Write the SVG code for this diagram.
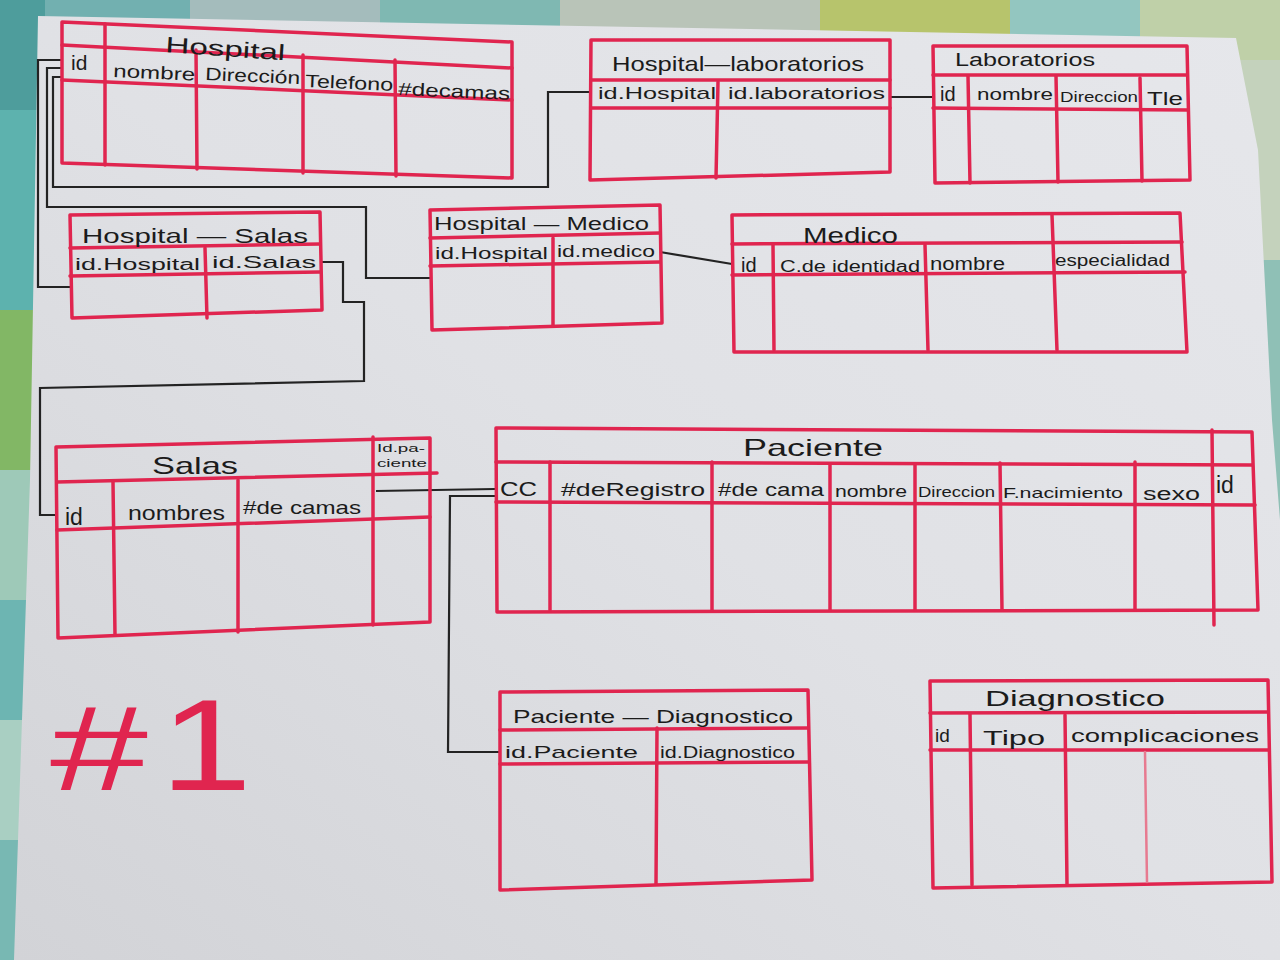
<svg xmlns="http://www.w3.org/2000/svg" width="1280" height="960" viewBox="0 0 1280 960">
  <defs>
    <linearGradient id="paper" x1="1" y1="0" x2="0" y2="1">
      <stop offset="0" stop-color="#e6e7eb"/>
      <stop offset="0.5" stop-color="#e0e1e5"/>
      <stop offset="1" stop-color="#d2d3d7"/>
    </linearGradient>
    <style>
      .r { fill: none; stroke: #e0254f; stroke-width: 3.5; stroke-linecap: round; stroke-linejoin: round; }
      .rf { fill: none; stroke: #e77a90; stroke-width: 2.5; stroke-linecap: round; }
      .t { font-family: "Liberation Sans", "DejaVu Sans", sans-serif; fill: #1b1b1b; }
      .h { font-size: 18px; }
      .ttl { font-size: 21px; }
      .conn { fill: none; stroke: #232323; stroke-width: 2.2; stroke-linejoin: miter; }
    </style>
  </defs>

  <!-- cloth underneath the sheet -->
  <g id="cloth">
    <rect x="0" y="0" width="1280" height="960" fill="#8fc0b6"/>
    <rect x="0" y="0" width="190" height="40" fill="#72b0b0"/>
    <rect x="190" y="0" width="190" height="40" fill="#a4bcbc"/>
    <rect x="380" y="0" width="180" height="40" fill="#7fb8b2"/>
    <rect x="560" y="0" width="260" height="40" fill="#b9c4b8"/>
    <rect x="820" y="0" width="190" height="45" fill="#b7c46c"/>
    <rect x="1010" y="0" width="130" height="45" fill="#93c6c0"/>
    <rect x="1140" y="0" width="140" height="60" fill="#bfd0a8"/>
    <rect x="1230" y="60" width="50" height="200" fill="#c4d2bc"/>
    <rect x="0" y="0" width="45" height="110" fill="#4e9d9c"/>
    <rect x="0" y="110" width="45" height="200" fill="#5db2ae"/>
    <rect x="0" y="310" width="45" height="160" fill="#82b765"/>
    <rect x="0" y="470" width="45" height="130" fill="#9ec9b8"/>
    <rect x="0" y="600" width="45" height="120" fill="#6db5b2"/>
    <rect x="0" y="720" width="45" height="120" fill="#a9cfc2"/>
    <rect x="0" y="840" width="45" height="120" fill="#78b8b3"/>
  </g>

  <!-- the sheet of paper -->
  <polygon id="sheet" points="38,16 1236,38 1258,150 1272,420 1280,520 1280,960 14,960 30,480" fill="url(#paper)"/>

  <!-- relationship lines -->
  <g id="connectors" class="conn">
    <path d="M62,60 H38 V287 H70"/>
    <path d="M62,68 H47 V207 H366 V278 H430"/>
    <path d="M62,77 H53 V187 H548 V92 H591"/>
    <path d="M320,262 H343 V302 H364 V381 L40,388 V515 H56"/>
    <path d="M660,252 L732,264"/>
    <path d="M890,97 H932"/>
    <path d="M376,491 L495,489"/>
    <path d="M495,496 H450 L448,752 H500"/>
  </g>

  <!-- Hospital -->
  <g id="hospital">
    <path class="r" d="M62,22 L512,42 L512,178 L62,163 Z"/>
    <path class="r" d="M62,45 L512,68"/>
    <path class="r" d="M62,80 L512,100"/>
    <path class="r" d="M105,24 L105,165"/>
    <path class="r" d="M196,50 L197,169"/>
    <path class="r" d="M303,55 L303,173"/>
    <path class="r" d="M395,60 L396,176"/>
    <text class="t" x="165" y="52" font-size="22" textLength="120" lengthAdjust="spacingAndGlyphs" transform="rotate(4 165 52)">Hospital</text>
    <text class="t" x="71" y="70" font-size="21">id</text>
    <text class="t h" x="113" y="77" textLength="82" lengthAdjust="spacingAndGlyphs" transform="rotate(2.5 113 77)">nombre</text>
    <text class="t h" x="205" y="80" textLength="95" lengthAdjust="spacingAndGlyphs" transform="rotate(2.5 205 80)">Dirección</text>
    <text class="t h" x="305" y="87" textLength="88" lengthAdjust="spacingAndGlyphs" transform="rotate(2.5 305 87)">Telefono</text>
    <text class="t h" x="398" y="95" textLength="112" lengthAdjust="spacingAndGlyphs" transform="rotate(2.5 398 95)">#decamas</text>
  </g>

  <!-- Hospital—laboratorios -->
  <g id="hospital-laboratorios">
    <path class="r" d="M591,40 L890,40 L890,172 L590,180 Z"/>
    <path class="r" d="M591,80 L890,80"/>
    <path class="r" d="M591,108 L890,108"/>
    <path class="r" d="M718,82 L716,178"/>
    <text class="t ttl" x="612" y="71" textLength="252" lengthAdjust="spacingAndGlyphs">Hospital—laboratorios</text>
    <text class="t" x="598" y="99" font-size="17" textLength="118" lengthAdjust="spacingAndGlyphs">id.Hospital</text>
    <text class="t" x="728" y="99" font-size="17" textLength="157" lengthAdjust="spacingAndGlyphs">id.laboratorios</text>
  </g>

  <!-- Laboratorios -->
  <g id="laboratorios">
    <path class="r" d="M933,46 L1187,46 L1190,180 L935,183 Z"/>
    <path class="r" d="M933,75 L1187,75"/>
    <path class="r" d="M933,108 L1188,110"/>
    <path class="r" d="M968,76 L970,183"/>
    <path class="r" d="M1056,76 L1058,182"/>
    <path class="r" d="M1140,78 L1142,181"/>
    <text class="t" x="955" y="66" font-size="18" textLength="140" lengthAdjust="spacingAndGlyphs">Laboratorios</text>
    <text class="t" x="940" y="101" font-size="20">id</text>
    <text class="t" x="977" y="100" font-size="17" textLength="76" lengthAdjust="spacingAndGlyphs">nombre</text>
    <text class="t" x="1060" y="102" font-size="15" textLength="78" lengthAdjust="spacingAndGlyphs">Direccion</text>
    <text class="t" x="1147" y="105" font-size="19" textLength="36" lengthAdjust="spacingAndGlyphs">Tle</text>
  </g>

  <!-- Hospital — Salas -->
  <g id="hospital-salas">
    <path class="r" d="M70,215 L320,212 L322,310 L72,318 Z"/>
    <path class="r" d="M70,248 L320,244"/>
    <path class="r" d="M70,276 L320,272"/>
    <path class="r" d="M205,248 L207,318"/>
    <text class="t ttl" x="82" y="243" textLength="226" lengthAdjust="spacingAndGlyphs">Hospital — Salas</text>
    <text class="t" x="75" y="270" font-size="16" textLength="125" lengthAdjust="spacingAndGlyphs">id.Hospital</text>
    <text class="t" x="212" y="268" font-size="17" textLength="104" lengthAdjust="spacingAndGlyphs">id.Salas</text>
  </g>

  <!-- Hospital — Medico -->
  <g id="hospital-medico">
    <path class="r" d="M430,210 L660,205 L662,323 L432,330 Z"/>
    <path class="r" d="M430,238 L660,233"/>
    <path class="r" d="M430,266 L660,262"/>
    <path class="r" d="M553,238 L553,326"/>
    <text class="t" x="434" y="230" font-size="18" textLength="215" lengthAdjust="spacingAndGlyphs">Hospital — Medico</text>
    <text class="t" x="435" y="259" font-size="16" textLength="113" lengthAdjust="spacingAndGlyphs">id.Hospital</text>
    <text class="t" x="557" y="257" font-size="16" textLength="98" lengthAdjust="spacingAndGlyphs">id.medico</text>
  </g>

  <!-- Medico -->
  <g id="medico">
    <path class="r" d="M732,215 L1180,213 L1187,352 L734,352 Z"/>
    <path class="r" d="M732,244 L1182,242"/>
    <path class="r" d="M732,275 L1185,272"/>
    <path class="r" d="M773,245 L774,350"/>
    <path class="r" d="M925,245 L928,350"/>
    <path class="r" d="M1052,215 L1057,350"/>
    <text class="t" x="803" y="243" font-size="22" textLength="95" lengthAdjust="spacingAndGlyphs">Medico</text>
    <text class="t" x="741" y="272" font-size="20">id</text>
    <text class="t" x="780" y="272" font-size="16" textLength="140" lengthAdjust="spacingAndGlyphs">C.de identidad</text>
    <text class="t" x="930" y="270" font-size="18" textLength="75" lengthAdjust="spacingAndGlyphs">nombre</text>
    <text class="t" x="1055" y="266" font-size="16" textLength="115" lengthAdjust="spacingAndGlyphs">especialidad</text>
  </g>

  <!-- Salas -->
  <g id="salas">
    <path class="r" d="M56,447 L430,438 L430,622 L58,638 Z"/>
    <path class="r" d="M57,482 L437,473"/>
    <path class="r" d="M57,530 L430,517"/>
    <path class="r" d="M113,482 L115,635"/>
    <path class="r" d="M238,480 L238,632"/>
    <path class="r" d="M373,437 L373,625"/>
    <text class="t" x="152" y="474" font-size="24" textLength="86" lengthAdjust="spacingAndGlyphs">Salas</text>
    <text class="t" x="377" y="452" font-size="11" textLength="48" lengthAdjust="spacingAndGlyphs">Id.pa-</text>
    <text class="t" x="377" y="467" font-size="11" textLength="50" lengthAdjust="spacingAndGlyphs">ciente</text>
    <text class="t" x="65" y="525" font-size="23">id</text>
    <text class="t" x="128" y="520" font-size="20" textLength="97" lengthAdjust="spacingAndGlyphs">nombres</text>
    <text class="t" x="243" y="514" font-size="19" textLength="118" lengthAdjust="spacingAndGlyphs">#de camas</text>
  </g>

  <!-- Paciente -->
  <g id="paciente">
    <path class="r" d="M496,428 L1252,432 L1258,610 L497,612 Z"/>
    <path class="r" d="M496,462 L1252,465"/>
    <path class="r" d="M496,502 L1255,505"/>
    <path class="r" d="M550,462 L550,610"/>
    <path class="r" d="M712,462 L712,610"/>
    <path class="r" d="M830,465 L830,610"/>
    <path class="r" d="M915,465 L915,610"/>
    <path class="r" d="M1000,463 L1002,610"/>
    <path class="r" d="M1135,462 L1135,610"/>
    <path class="r" d="M1212,430 L1214,625"/>
    <text class="t" x="743" y="456" font-size="24" textLength="140" lengthAdjust="spacingAndGlyphs">Paciente</text>
    <text class="t" x="500" y="496" font-size="20" textLength="37" lengthAdjust="spacingAndGlyphs">CC</text>
    <text class="t" x="561" y="496" font-size="19" textLength="144" lengthAdjust="spacingAndGlyphs">#deRegistro</text>
    <text class="t" x="718" y="496" font-size="18" textLength="106" lengthAdjust="spacingAndGlyphs">#de cama</text>
    <text class="t" x="835" y="497" font-size="17" textLength="72" lengthAdjust="spacingAndGlyphs">nombre</text>
    <text class="t" x="918" y="497" font-size="14" textLength="77" lengthAdjust="spacingAndGlyphs">Direccion</text>
    <text class="t" x="1003" y="498" font-size="15" textLength="120" lengthAdjust="spacingAndGlyphs">F.nacimiento</text>
    <text class="t" x="1143" y="500" font-size="18" textLength="57" lengthAdjust="spacingAndGlyphs">sexo</text>
    <text class="t" x="1216" y="493" font-size="23">id</text>
  </g>

  <!-- Paciente — Diagnostico -->
  <g id="paciente-diagnostico">
    <path class="r" d="M500,692 L808,690 L812,880 L500,890 Z"/>
    <path class="r" d="M500,730 L808,728"/>
    <path class="r" d="M500,764 L808,762"/>
    <path class="r" d="M657,728 L656,884"/>
    <text class="t" x="513" y="723" font-size="19" textLength="280" lengthAdjust="spacingAndGlyphs">Paciente — Diagnostico</text>
    <text class="t" x="505" y="758" font-size="17" textLength="133" lengthAdjust="spacingAndGlyphs">id.Paciente</text>
    <text class="t" x="660" y="758" font-size="16" textLength="135" lengthAdjust="spacingAndGlyphs">id.Diagnostico</text>
  </g>

  <!-- Diagnostico -->
  <g id="diagnostico">
    <path class="r" d="M930,681 L1268,680 L1272,882 L933,888 Z"/>
    <path class="r" d="M930,713 L1268,712"/>
    <path class="r" d="M930,750 L1268,750"/>
    <path class="r" d="M970,714 L972,885"/>
    <path class="r" d="M1065,715 L1067,884"/>
    <path class="rf" d="M1145,752 L1147,882"/>
    <text class="t" x="985" y="706" font-size="22" textLength="180" lengthAdjust="spacingAndGlyphs">Diagnostico</text>
    <text class="t" x="935" y="742" font-size="19">id</text>
    <text class="t" x="983" y="745" font-size="21" textLength="62" lengthAdjust="spacingAndGlyphs">Tipo</text>
    <text class="t" x="1071" y="742" font-size="19" textLength="188" lengthAdjust="spacingAndGlyphs">complicaciones</text>
  </g>

  <!-- sheet number -->
  <g id="sheet-number" font-family="Liberation Sans, DejaVu Sans, sans-serif" fill="#e0254f">
    <text x="50" y="790" font-size="120" textLength="98" lengthAdjust="spacingAndGlyphs">#</text>
    <text x="160" y="790" font-size="130" textLength="92" lengthAdjust="spacingAndGlyphs">1</text>
  </g>
</svg>
